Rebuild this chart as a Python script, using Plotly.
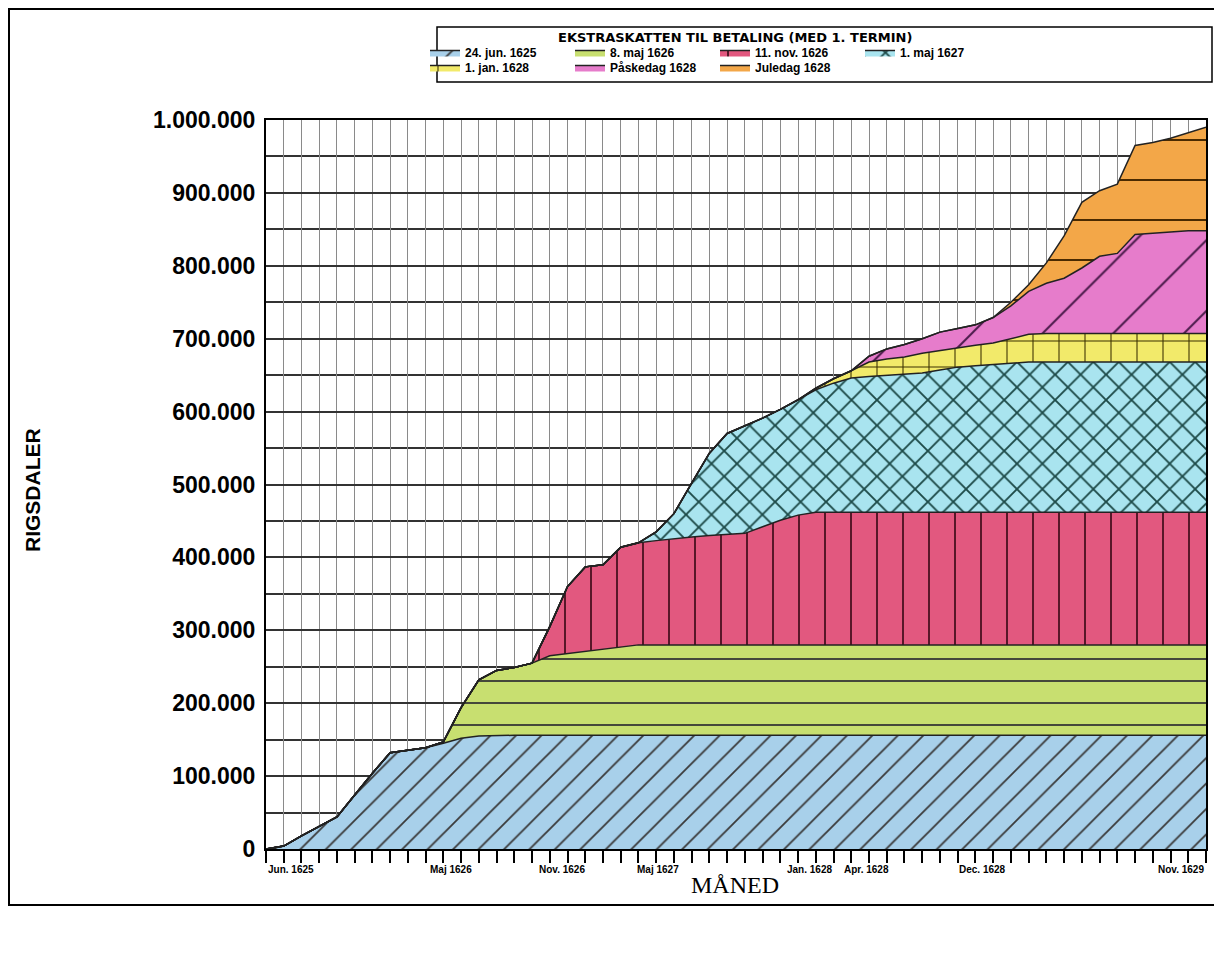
import plotly.graph_objects as go

# month index 0 = Jun. 1625 ... 53 = Nov. 1629
months = list(range(54))
label_months = [0, 11, 17, 23, 31, 34, 42, 53]
label_texts = ["Jun. 1625", "Maj 1626", "Nov. 1626", "Maj 1627",
               "Jan. 1628", "Apr. 1628", "Dec. 1628", "Nov. 1629"]

# amounts paid per tax term, in 1000 rigsdaler (cumulative over time)
jun_1625 = [0, 4, 18, 31, 44, 74, 104, 132, 135, 139,
            145, 152, 155, 156, 156, 156, 156, 156, 156, 156,
            156, 156, 156, 156, 156, 156, 156, 156, 156, 156,
            156, 156, 156, 156, 156, 156, 156, 156, 156, 156,
            156, 156, 156, 156, 156, 156, 156, 156, 156, 156,
            156, 156, 156, 156]
maj_1626 = [0, 0, 0, 0, 0, 0, 0, 0, 0, 0,
            2, 42, 77, 89, 93, 99, 109, 112, 116, 119,
            122, 124, 124, 124, 124, 124, 124, 124, 124, 124,
            124, 124, 124, 124, 124, 124, 124, 124, 124, 124,
            124, 124, 124, 124, 124, 124, 124, 124, 124, 124,
            124, 124, 124, 124]
nov_1626 = [0, 0, 0, 0, 0, 0, 0, 0, 0, 0,
            0, 0, 0, 0, 0, 0, 40, 92, 115, 115,
            136, 140, 143, 146, 148, 150, 151, 153, 162, 171,
            178, 182, 182, 182, 182, 182, 182, 182, 182, 182,
            182, 182, 182, 182, 182, 182, 182, 182, 182, 182,
            182, 182, 182, 182]
maj_1627 = [0, 0, 0, 0, 0, 0, 0, 0, 0, 0,
            0, 0, 0, 0, 0, 0, 0, 0, 0, 0,
            0, 0, 12, 34, 74, 113, 139, 147, 149, 152,
            158, 168, 177, 184, 186, 188, 189, 191, 195, 199,
            201, 203, 205, 206, 206, 206, 206, 206, 206, 206,
            206, 206, 206, 206]
jan_1628 = [0, 0, 0, 0, 0, 0, 0, 0, 0, 0,
            0, 0, 0, 0, 0, 0, 0, 0, 0, 0,
            0, 0, 0, 0, 0, 0, 0, 0, 0, 0,
            0, 2, 6, 10, 20, 22, 24, 27, 27, 27,
            28, 29, 33, 38, 39, 39, 39, 39, 39, 39,
            39, 39, 39, 39]
paaske_1628 = [0, 0, 0, 0, 0, 0, 0, 0, 0, 0,
               0, 0, 0, 0, 0, 0, 0, 0, 0, 0,
               0, 0, 0, 0, 0, 0, 0, 0, 0, 0,
               0, 0, 0, 0, 8, 14, 17, 20, 25, 26,
               28, 35, 45, 59, 69, 76, 90, 106, 110, 136,
               138, 140, 141, 141]
jul_1628 = [0, 0, 0, 0, 0, 0, 0, 0, 0, 0,
            0, 0, 0, 0, 0, 0, 0, 0, 0, 0,
            0, 0, 0, 0, 0, 0, 0, 0, 0, 0,
            0, 0, 0, 0, 0, 0, 0, 0, 0, 0,
            0, 0, 5, 9, 28, 58, 90, 90, 95, 122,
            124, 128, 134, 142]

series = [
    ("24. jun. 1625", jun_1625, "#a8d0ea", "/", 18, 0.10, "#3a3a3a", "legend"),
    ("8. maj 1626", maj_1626, "#c8df70", "-", 22, 0.08, "#333333", "legend"),
    ("11. nov. 1626", nov_1626, "#e2587f", "|", 26, 0.07, "#4a1020", "legend"),
    ("1. maj 1627", maj_1627, "#a9e4ef", "x", 18, 0.2, "#1d4a48", "legend"),
    ("1. jan. 1628", jan_1628, "#f2ea6a", "+", 26, 0.08, "#3a3000", "legend2"),
    ("Påskedag 1628", paaske_1628, "#e67ccb", "/", 50, 0.04, "#4a1a4a", "legend2"),
    ("Juledag 1628", jul_1628, "#f3a748", "-", 40, 0.05, "#4a2a00", "legend2"),
]

# page body has an 8px margin; positions below are given in page pixels
OFF = 8
W, H = 1222 - OFF, 953 - OFF
L, T = 266 - OFF, 120 - OFF
R, B = W - (1206 - OFF), H - (849 - OFF)
pw, ph = W - L - R, H - T - B


def px(x):
    return (x - OFF - L) / pw


def py(y):
    return (H - B - (y - OFF)) / ph


fig = go.Figure()
for name, vals, col, shp, size, sol, fg, lg in series:
    fig.add_trace(go.Scatter(
        x=months, y=[v * 1000 for v in vals], name=name, mode="lines",
        stackgroup="a", line=dict(color="#222222", width=1.5),
        fillcolor=col,
        fillpattern=dict(shape=shp, size=size, solidity=sol, fgcolor=fg,
                         bgcolor=col, fillmode="replace"),
        legend=lg, hoverinfo="skip"))

leg = dict(orientation="h", xanchor="left", yanchor="top",
           entrywidth=100, traceorder="normal", itemwidth=30,
           font=dict(size=12, weight="bold"), bgcolor="rgba(0,0,0,0)")

# month labels were hand lettered, slightly off their ticks
label_anchor = ["left", "center", "center", "center", "center", "center", "center", "right"]
label_shift = [0, -10, -6, -16, -6, -3, -28, 0]
month_labels = [
    dict(text=t, x=m, xref="x", y=py(869), yref="paper", xanchor=a, yanchor="middle",
         xshift=s, showarrow=False,
         font=dict(size=10, weight="bold", family="Liberation Sans Narrow, Liberation Sans"))
    for t, m, a, s in zip(label_texts, label_months, label_anchor, label_shift)
]

y_ticks = list(range(0, 1000001, 100000))
fig.update_layout(
    width=W, height=H,
    margin=dict(l=L, r=R, t=T, b=B),
    paper_bgcolor="white", plot_bgcolor="white",
    font=dict(family="Liberation Sans, Arial", color="black"),
    showlegend=True,
    legend=dict(leg, x=px(425), y=py(38)),
    legend2=dict(leg, x=px(425), y=py(53)),
    xaxis=dict(range=[0, 53], tickvals=months, showticklabels=False,
               ticks="outside", ticklen=12, tickwidth=1.5, tickcolor="black",
               showgrid=True, gridcolor="#8a8a8a", gridwidth=1,
               showline=True, linecolor="black", linewidth=2, mirror=True, zeroline=False),
    yaxis=dict(range=[0, 1000000], tickvals=y_ticks,
               ticktext=[f"{v:,}".replace(",", ".") for v in y_ticks],
               tickfont=dict(size=23, weight="bold"), ticklabelstandoff=4,
               showgrid=True, gridcolor="#333333", gridwidth=1.5,
               minor=dict(dtick=50000, showgrid=True, gridcolor="#333333", gridwidth=1.5),
               showline=True, linecolor="black", linewidth=2, mirror=True, zeroline=False),
    shapes=[
        dict(type="rect", xref="paper", yref="paper", x0=px(9), x1=px(1220),
             y0=py(905), y1=py(9), line=dict(color="black", width=2)),
        dict(type="rect", xref="paper", yref="paper", x0=px(437), x1=px(1212),
             y0=py(82), y1=py(27), line=dict(color="black", width=1.5)),
    ],
    annotations=month_labels + [
        dict(text="EKSTRASKATTEN TIL BETALING (MED 1. TERMIN)", xref="paper", yref="paper",
             x=px(735), y=py(37), xanchor="center", yanchor="middle", showarrow=False,
             font=dict(size=13, weight="bold", family="DejaVu Sans")),
        dict(text="RIGSDALER", xref="paper", yref="paper", x=px(32), y=py(490),
             xanchor="center", yanchor="middle", textangle=-90, showarrow=False,
             font=dict(size=21, weight="bold")),
        dict(text="MÅNED", xref="paper", yref="paper", x=px(735), y=py(885),
             xanchor="center", yanchor="middle", showarrow=False,
             font=dict(size=24, family="Liberation Serif")),
    ],
)

fig.write_html("out.html")
